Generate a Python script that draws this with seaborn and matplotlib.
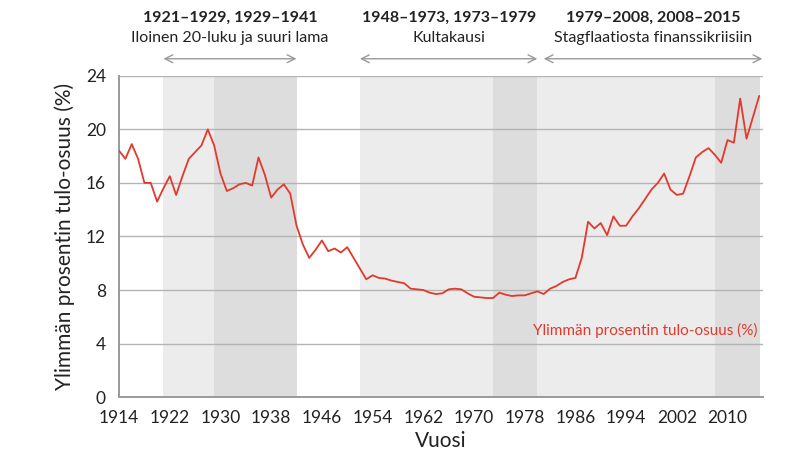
import numpy as np
import pandas as pd
import seaborn as sns
import matplotlib.pyplot as plt
import matplotlib.transforms as mtransforms

years = list(range(1914, 2016))
share = [
    18.4, 17.8, 18.9, 17.8, 16.0, 16.0, 14.6, 15.6, 16.5, 15.1,
    16.5, 17.8, 18.3, 18.8, 20.0, 18.8, 16.7, 15.4, 15.6, 15.9,
    16.0, 15.8, 17.9, 16.6, 14.9, 15.5, 15.9, 15.2, 12.8, 11.4,
    10.4, 11.0, 11.7, 10.9, 11.1, 10.8, 11.2, 10.4, 9.6, 8.8,
    9.1, 8.9, 8.85, 8.7, 8.6, 8.5, 8.1, 8.05, 8.0, 7.8,
    7.7, 7.75, 8.05, 8.1, 8.05, 7.75, 7.5, 7.45, 7.4, 7.4,
    7.8, 7.65, 7.55, 7.6, 7.6, 7.75, 7.9, 7.7, 8.1, 8.3,
    8.6, 8.8, 8.9, 10.4, 13.1, 12.6, 13.0, 12.1, 13.5, 12.8,
    12.8, 13.5, 14.1, 14.8, 15.5, 16.0, 16.7, 15.5, 15.1, 15.2,
    16.5, 17.9, 18.3, 18.6, 18.1, 17.5, 19.2, 19.0, 22.3, 19.3,
    20.9, 22.5,
]

# shaded periods (start, end, shade)
span_start = [1921, 1929, 1952, 1973, 1980, 2008]
span_end = [1929, 1942, 1973, 1980, 2008, 2015.2]
span_dark = [False, True, False, True, False, True]

# header blocks above the plot
era_years = ['1921–1929, 1929–1941', '1948–1973, 1973–1979', '1979–2008, 2008–2015']
era_names = ['Iloinen 20-luku ja suuri lama', 'Kultakausi', 'Stagflaatiosta finanssikriisiin']
era_from = [1921, 1952, 1981]
era_to = [1942, 1980, 2015.5]

xticks = list(range(1914, 2011, 8))
yticks = [0, 4, 8, 12, 16, 20, 24]

red = '#e2392c'
grey = '#9a9a9a'

sns.set_theme(style='white')
plt.rcParams['font.family'] = ['Lato', 'DejaVu Sans']

df = pd.DataFrame({'Vuosi': years, 'Osuus': share})

fig = plt.figure(figsize=(8.1, 4.65), dpi=100)
ax = fig.add_axes([0.147, 0.146, 0.795, 0.691])

for s, e, d in zip(span_start, span_end, span_dark):
    ax.axvspan(s, e, color='#dddddd' if d else '#ececec', lw=0, zorder=0)

for t in yticks[1:]:
    ax.axhline(t, color='#b4b4b4', lw=1, zorder=1)

sns.lineplot(data=df, x='Vuosi', y='Osuus', color=red, lw=1.3, ax=ax, zorder=3)

ax.set_xlim(1914, 2015.6)
ax.set_ylim(0, 24)
ax.set_xticks(xticks)
ax.set_yticks(yticks)
ax.tick_params(axis='both', labelsize=12.5, colors='#222222', length=6, width=1,
               direction='out', color=grey)
ax.tick_params(axis='x', pad=3)
for side in ['top', 'right']:
    ax.spines[side].set_visible(False)
for side in ['left', 'bottom']:
    ax.spines[side].set_color(grey)
    ax.spines[side].set_linewidth(1.4)

ax.set_xlabel('Vuosi', fontsize=15, color='#222222', labelpad=4)
ax.set_ylabel('Ylimmän prosentin tulo-osuus (%)', fontsize=15, color='#222222', labelpad=8)

ax.text(2014.8, 5.0, 'Ylimmän prosentin tulo-osuus (%)', color=red, fontsize=11,
        ha='right', va='center')

trans = mtransforms.blended_transform_factory(ax.transData, ax.transAxes)
for yr, name, a, b in zip(era_years, era_names, era_from, era_to):
    mid = (a + b) / 2
    ax.text(mid, 1.18, yr, transform=trans, ha='center', va='center',
            fontsize=11.5, fontweight='bold', color='#222222')
    ax.text(mid, 1.118, name, transform=trans, ha='center', va='center',
            fontsize=11.5, color='#222222')
    ax.annotate('', xy=(b, 1.053), xytext=(a, 1.053), xycoords=trans, textcoords=trans,
                arrowprops=dict(arrowstyle='<->', color=grey, lw=1,
                                shrinkA=0, shrinkB=0, mutation_scale=14),
                annotation_clip=False)

fig.savefig('out.png', dpi=100)
